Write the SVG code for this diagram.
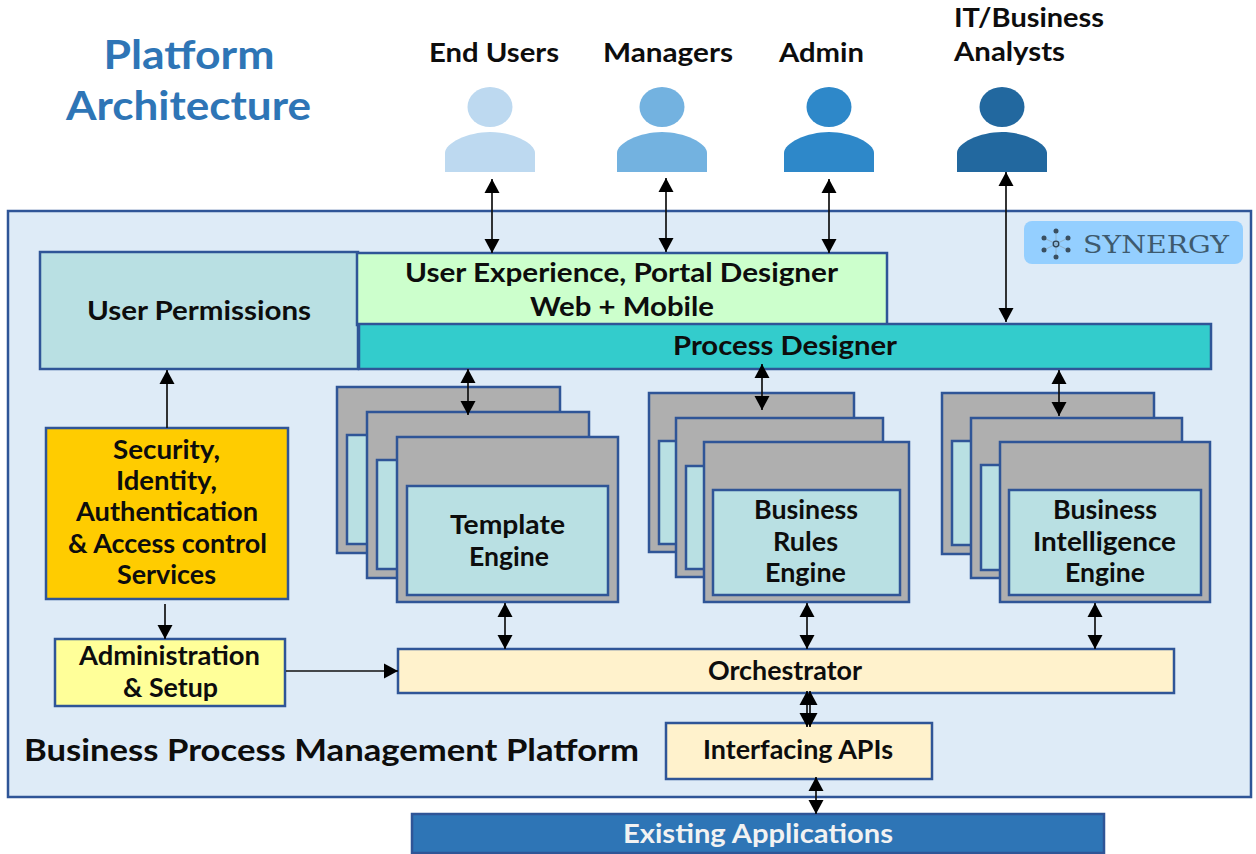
<svg xmlns="http://www.w3.org/2000/svg" width="1256" height="854" viewBox="0 0 1256 854">
<style>
text{font-family:Lato,"Noto Sans",sans-serif;font-weight:700;fill:#0d0d0d;text-anchor:middle}
.b{stroke:#2f5597;stroke-width:2.5}
.c{stroke:#111;stroke-width:1.7;fill:none;marker-start:url(#a);marker-end:url(#a)}
.s{stroke:#111;stroke-width:1.7;fill:none;marker-end:url(#a)}
.g{fill:#afafaf}.t{fill:#b9e0e3}.y{fill:#fff2cc}
.l{font-size:26px}
.h{font-size:40px;fill:#2e75b6}
</style>
<defs>
<marker id="a" markerUnits="userSpaceOnUse" markerWidth="16" markerHeight="16" refX="14" refY="8" orient="auto-start-reverse"><path d="M0 0.5L14 8L0 15.500Z" fill="#000"/></marker>
<g id="p"><ellipse cx="0" cy="-41" rx="22.500" ry="20"/><path d="M-45 24V5C-45-5-22-16 0-16S45-5 45 5V24Z"/></g>
</defs>
<rect id="platform" class="b" x="8" y="211" width="1243" height="586" fill="#deebf7"/>
<g id="title"><text class="h" x="189" y="69" textLength="171" lengthAdjust="spacingAndGlyphs">Platform</text><text class="h" x="188.500" y="120" textLength="245" lengthAdjust="spacingAndGlyphs">Architecture</text></g>
<g id="end-users"><use href="#p" x="490" y="148" fill="#bdd9f0"/><text class="l" x="494" y="62" textLength="130" lengthAdjust="spacingAndGlyphs">End Users</text></g>
<g id="managers"><use href="#p" x="662" y="148" fill="#73b2e0"/><text class="l" x="668" y="62" textLength="130" lengthAdjust="spacingAndGlyphs">Managers</text></g>
<g id="admin"><use href="#p" x="829" y="148" fill="#2e88c9"/><text class="l" x="821.500" y="62" textLength="85" lengthAdjust="spacingAndGlyphs">Admin</text></g>
<g id="analysts"><use href="#p" x="1002" y="148" fill="#22689f"/><text class="l" x="1029" y="27" textLength="150" lengthAdjust="spacingAndGlyphs">IT/Business</text><text class="l" x="1009.500" y="61" textLength="111" lengthAdjust="spacingAndGlyphs">Analysts</text></g>
<g id="logo"><rect x="1024" y="221" width="219" height="43" rx="8" fill="#94cfff"/>
<g stroke="#8fb0c8" stroke-width="1"><path d="M1056 233V255M1044 238L1068 250M1044 250L1068 238"/></g>
<g fill="#3a4f60"><circle cx="1056" cy="231" r="2.500"/><circle cx="1056" cy="257" r="2.500"/><circle cx="1044" cy="238" r="2.500"/><circle cx="1068" cy="238" r="2.500"/><circle cx="1044" cy="250" r="2.500"/><circle cx="1068" cy="250" r="2.500"/></g>
<circle cx="1056" cy="244" r="2.800" fill="none" stroke="#2f4252" stroke-width="1.300"/>
<text x="1156" y="253" style="font-family:'DejaVu Serif',serif;font-weight:400;font-size:25px;fill:#3e5a6e" textLength="146" lengthAdjust="spacingAndGlyphs">SYNERGY</text></g>
<g id="user-permissions"><rect class="b t" x="40" y="252" width="318" height="117"/><text class="l" x="199" y="320" textLength="224" lengthAdjust="spacingAndGlyphs">User Permissions</text></g>
<g id="user-experience"><rect class="b" x="357" y="253" width="530" height="72" fill="#ccffcc"/><text class="l" x="621.500" y="282" textLength="433" lengthAdjust="spacingAndGlyphs">User Experience, Portal Designer</text><text class="l" x="622" y="316" textLength="184" lengthAdjust="spacingAndGlyphs">Web + Mobile</text></g>
<g id="process-designer"><rect class="b" x="359" y="324" width="852" height="45" fill="#33cccc"/><text class="l" x="785" y="355" textLength="224" lengthAdjust="spacingAndGlyphs">Process Designer</text></g>
<g id="security"><rect class="b" x="46" y="428" width="242" height="171" fill="#ffcc00"/><text class="l" x="166.500" y="459" textLength="107" lengthAdjust="spacingAndGlyphs">Security,</text><text class="l" x="166.500" y="490" textLength="101" lengthAdjust="spacingAndGlyphs">Identity,</text><text class="l" x="167" y="521" textLength="182" lengthAdjust="spacingAndGlyphs">Authentication</text><text class="l" x="167.500" y="553" textLength="199" lengthAdjust="spacingAndGlyphs">&amp; Access control</text><text class="l" x="166.500" y="584" textLength="99" lengthAdjust="spacingAndGlyphs">Services</text></g>
<g id="administration"><rect class="b" x="55" y="639" width="230" height="67" fill="#ffff99"/><text class="l" x="169.500" y="665" textLength="181" lengthAdjust="spacingAndGlyphs">Administration</text><text class="l" x="170.500" y="697" textLength="95" lengthAdjust="spacingAndGlyphs">&amp; Setup</text></g>
<g id="template-engine">
<rect class="b g" x="337" y="387" width="223" height="166"/><rect class="b t" x="347" y="435" width="202" height="109"/>
<rect class="b g" x="367" y="412" width="222" height="166"/><rect class="b t" x="377" y="460" width="202" height="109"/>
<rect class="b g" x="397" y="437" width="221" height="165"/><rect class="b t" x="407" y="486" width="201" height="109"/>
<text class="l" x="507.500" y="534" textLength="115" lengthAdjust="spacingAndGlyphs">Template</text><text class="l" x="509" y="566" textLength="80" lengthAdjust="spacingAndGlyphs">Engine</text></g>
<g id="business-rules-engine">
<rect class="b g" x="649" y="393" width="205" height="159"/><rect class="b t" x="659" y="441" width="186" height="103"/>
<rect class="b g" x="676" y="418" width="207" height="159"/><rect class="b t" x="686" y="466" width="186" height="103"/>
<rect class="b g" x="704" y="442" width="205" height="160"/><rect class="b t" x="713" y="490" width="187" height="105"/>
<text class="l" x="806" y="519" textLength="104" lengthAdjust="spacingAndGlyphs">Business</text><text class="l" x="805.500" y="551" textLength="65" lengthAdjust="spacingAndGlyphs">Rules</text><text class="l" x="805.500" y="582" textLength="81" lengthAdjust="spacingAndGlyphs">Engine</text></g>
<g id="business-intelligence-engine">
<rect class="b g" x="942" y="393" width="212" height="161"/><rect class="b t" x="952" y="441" width="192" height="104"/>
<rect class="b g" x="971" y="418" width="211" height="160"/><rect class="b t" x="981" y="465" width="190" height="105"/>
<rect class="b g" x="1000" y="442" width="210" height="160"/><rect class="b t" x="1009" y="490" width="192" height="105"/>
<text class="l" x="1105" y="519" textLength="104" lengthAdjust="spacingAndGlyphs">Business</text><text class="l" x="1104.500" y="551" textLength="143" lengthAdjust="spacingAndGlyphs">Intelligence</text><text class="l" x="1105" y="582" textLength="80" lengthAdjust="spacingAndGlyphs">Engine</text></g>
<g id="orchestrator"><rect class="b y" x="398" y="649" width="776" height="44"/><text class="l" x="785" y="680" textLength="154" lengthAdjust="spacingAndGlyphs">Orchestrator</text></g>
<g id="interfacing-apis"><rect class="b y" x="666" y="723" width="266" height="56"/><text class="l" x="798" y="759" textLength="190" lengthAdjust="spacingAndGlyphs">Interfacing APIs</text></g>
<text x="331.500" y="761" style="font-size:29.500px" textLength="615" lengthAdjust="spacingAndGlyphs">Business Process Management Platform</text>
<g id="existing-applications"><rect class="b" x="412" y="814" width="692" height="39" fill="#2e75b6"/><text class="l" x="758" y="843" style="fill:#f2f2f2" textLength="270" lengthAdjust="spacingAndGlyphs">Existing Applications</text></g>
<g id="connectors">
<path class="c" d="M492 179V253"/><path class="c" d="M666 178V252"/><path class="c" d="M829 179V253"/><path class="c" d="M1006 172V322"/>
<path class="c" d="M468 369V415"/><path class="c" d="M762 364V410"/><path class="c" d="M1059 370V416"/>
<path class="c" d="M505 603V649"/><path class="c" d="M807 603V649"/><path class="c" d="M1095 603V649"/>
<path class="c" d="M807 691V727"/><path class="c" d="M810 691V727"/><path class="c" d="M816 777V814"/>
<path class="s" d="M167 428V370"/><path class="s" d="M165 604V639"/><path class="s" d="M286 671H398"/>
</g>
</svg>
